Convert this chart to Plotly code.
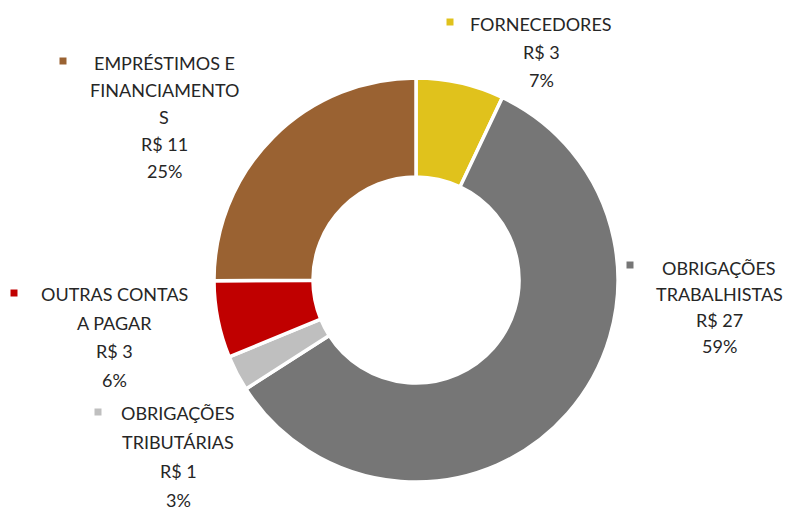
import plotly.graph_objects as go

# Composition of liabilities (R$)
categories = [
    "FORNECEDORES",
    "OBRIGAÇÕES TRABALHISTAS",
    "OBRIGAÇÕES TRIBUTÁRIAS",
    "OUTRAS CONTAS A PAGAR",
    "EMPRÉSTIMOS E FINANCIAMENTOS",
]
values = [3.2, 26.8, 1.3, 2.8, 11.4]
name_lines = [
    ["FORNECEDORES"],
    ["OBRIGAÇÕES", "TRABALHISTAS"],
    ["OBRIGAÇÕES", "TRIBUTÁRIAS"],
    ["OUTRAS CONTAS", "A PAGAR"],
    ["EMPRÉSTIMOS E", "FINANCIAMENTO", "S"],
]
colors = ["#E0C21C", "#767676", "#BFBFBF", "#C00000", "#9A6232"]

W, H = 791, 510
FONT = "Lato"
TEXT_COLOR = "#262626"

# donut placement (pixels)
CX, CY, R = 416, 280, 202

# label blocks (pixels): text centre x, first line y, line step, key square centre
label_pos = [
    dict(cx=541, y0=24, step=28, kx=450, ky=22),
    dict(cx=719, y0=268, step=26, kx=630, ky=265),
    dict(cx=178, y0=413, step=29, kx=98, ky=412),
    dict(cx=114, y0=294, step=28.5, kx=14, ky=293),
    dict(cx=164, y0=63, step=27, kx=63, ky=61),
]

fig = go.Figure(
    go.Pie(
        labels=categories,
        values=values,
        hole=0.51,
        sort=False,
        direction="clockwise",
        rotation=0,
        marker=dict(colors=colors, line=dict(color="white", width=3.5)),
        textinfo="none",
        hoverinfo="label+value+percent",
        showlegend=False,
        domain=dict(
            x=[(CX - R) / W, (CX + R) / W],
            y=[1 - (CY + R) / H, 1 - (CY - R) / H],
        ),
    )
)

total = sum(values)
annotations = []
shapes = []
for lines, v, col, pos in zip(name_lines, values, colors, label_pos):
    pct = v / total * 100
    block = list(lines) + [f"R$ {v:.0f}", f"{pct:.0f}%"]
    for i, txt in enumerate(block):
        annotations.append(
            dict(
                text=txt,
                x=pos["cx"] / W,
                y=1 - (pos["y0"] + i * pos["step"]) / H,
                xref="paper",
                yref="paper",
                xanchor="center",
                yanchor="middle",
                showarrow=False,
                font=dict(family=FONT, size=18, color=TEXT_COLOR),
            )
        )
    s = 3.5
    shapes.append(
        dict(
            type="rect",
            xref="paper",
            yref="paper",
            x0=(pos["kx"] - s) / W,
            x1=(pos["kx"] + s) / W,
            y0=1 - (pos["ky"] + s) / H,
            y1=1 - (pos["ky"] - s) / H,
            fillcolor=col,
            line=dict(width=0),
        )
    )

fig.update_layout(
    width=W,
    height=H,
    margin=dict(l=0, r=0, t=0, b=0),
    paper_bgcolor="white",
    plot_bgcolor="white",
    annotations=annotations,
    shapes=shapes,
)

fig.write_html("out.html")
